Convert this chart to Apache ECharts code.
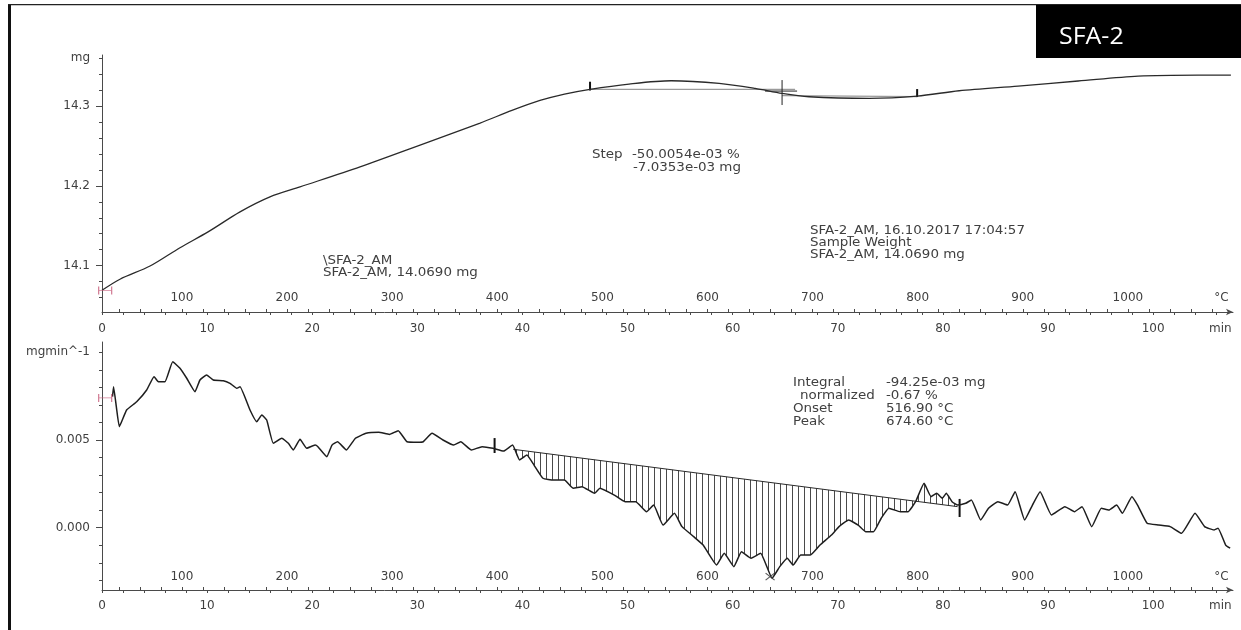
<!DOCTYPE html>
<html><head><meta charset="utf-8">
<script src="https://cdn.jsdelivr.net/npm/echarts@6/dist/echarts.min.js"></script>
<style>html,body{margin:0;padding:0;background:#fff}#c{width:1241px;height:630px}</style>
</head><body><div id="c"></div>
<script>
// ---------- data ----------
// TG curve: time (min) vs mass (mg)
const tgTime = [0,1.71,4.57,7.42,10.09,13.13,15.98,18.84,24.55,30.26,35.97,39.0,41.67,44.0,46.43,50.14,54.14,58.71,62.13,64.70,67.27,72.98,77.55,81.54,87.15,92.86,98.57,104.28,107.4];
const tgMass = [14.0691,14.0830,14.0995,14.1225,14.1423,14.1674,14.1862,14.1987,14.2238,14.2511,14.2787,14.2945,14.3070,14.3150,14.3210,14.3276,14.3317,14.3285,14.3222,14.3159,14.3117,14.3097,14.3125,14.3192,14.3251,14.3314,14.3376,14.3389,14.3389];
// DTG curve: time (min) vs rate (mg/min)
const dtgTime = [1.00,1.10,1.38,1.65,2.34,3.30,4.25,4.95,5.36,5.99,6.73,7.42,8.06,8.85,9.32,9.96,10.59,11.54,12.18,12.82,13.13,14.08,14.72,15.20,15.67,16.30,17.10,17.73,18.20,18.84,19.48,20.27,20.54,21.39,21.88,22.41,23.25,24.11,25.12,26.32,27.34,28.18,29.02,30.06,30.56,31.40,32.44,33.45,34.13,35.15,36.16,37.19,38.21,39.06,39.73,40.42,41.10,41.95,42.97,43.99,44.84,45.67,46.87,47.37,48.74,49.76,50.78,51.80,52.48,53.38,54.46,55.18,56.29,57.19,58.47,59.20,60.11,60.84,61.75,62.66,63.75,64.48,65.20,65.75,66.48,67.39,68.31,69.40,70.12,71.03,71.94,72.67,73.40,74.13,74.86,75.95,76.68,77.40,78.21,78.87,79.41,79.95,80.32,80.87,81.41,82.17,82.71,83.59,84.34,85.23,86.15,86.87,87.78,88.52,89.25,90.33,91.61,92.52,93.24,94.16,95.07,95.79,96.53,97.07,97.98,98.52,99.43,100.53,101.62,102.71,103.99,104.90,105.80,106.18,106.90,107.33];
const dtgRate = [0.00747,0.00804,0.00682,0.00576,0.00671,0.00718,0.00785,0.00861,0.00832,0.00832,0.00946,0.00909,0.00852,0.00775,0.00842,0.00871,0.00842,0.00838,0.00823,0.00795,0.00804,0.00671,0.00604,0.00643,0.00614,0.00481,0.00510,0.00481,0.00443,0.00504,0.00453,0.00471,0.00462,0.00405,0.00471,0.00490,0.00443,0.00510,0.00538,0.00544,0.00532,0.00553,0.00490,0.00487,0.00490,0.00538,0.00500,0.00471,0.00490,0.00443,0.00462,0.00453,0.00437,0.00471,0.00386,0.00414,0.00357,0.00282,0.00272,0.00272,0.00225,0.00234,0.00196,0.00225,0.00186,0.00148,0.00148,0.00091,0.00129,0.00015,0.00082,0.00006,-0.00051,-0.00099,-0.00213,-0.00146,-0.00222,-0.00137,-0.00174,-0.00146,-0.00288,-0.00222,-0.00174,-0.00213,-0.00156,-0.00156,-0.00099,-0.00042,0.00006,0.00044,0.00015,-0.00023,-0.00023,0.00054,0.00111,0.00091,0.00091,0.00148,0.00253,0.00177,0.00196,0.00168,0.00196,0.00148,0.00129,0.00139,0.00158,0.00044,0.00111,0.00148,0.00129,0.00205,0.00044,0.00129,0.00205,0.00072,0.00120,0.00091,0.00120,0.00006,0.00111,0.00101,0.00129,0.00082,0.00177,0.00129,0.00025,0.00015,0.00006,-0.00032,0.00082,0.00006,-0.00013,-0.00003,-0.00099,-0.00117];

// tick labels
const timeLabels = [0,10,20,30,40,50,60,70,80,90,100];
const tempLabels = [100,200,300,400,500,600,700,800,900,1000];
const massLabels = [14.1,14.2,14.3];
const rateLabels = [0.000,0.005];
const timeUnitPos = 106.4, tempUnitPos = 1089, massUnitPos = 14.36, rateUnitPos = 0.010;

// evaluation marks (data coordinates)
const stepTangentA = [[46.43,14.3210],[65.94,14.3210]];
const stepTangentB = [[64.70,14.3130],[77.55,14.3118]];
const stepCrossV = [[64.70,14.3326],[64.70,14.3013]];
const stepCrossH = [[63.08,14.3188],[66.13,14.3188]];
const stepLimitL = [[46.43,14.3305],[46.43,14.3195]];
const stepLimitR = [[77.55,14.3213],[77.55,14.3113]];
const integBaseline = [[39.12,0.00447],[81.40,0.00120]];
const integLimitL = [[37.35,0.00511],[37.35,0.00426]];
const integLimitR = [[81.59,0.00164],[81.59,0.00061]];
const peakMark = [[63.56,-0.00279]];
const startMarkTG = [[0.3,14.069]];
const startMarkDTG = [[0.3,0.0074]];

// axis ranges
const T_MAX = 107.6, TEMP_MIN = 24, TEMP_MAX = 1100;
const M_MIN = 14.0419, M_MAX = 14.364;
const R_MIN = -0.003552, R_MAX = 0.010587;

// ---------- helpers ----------
const FONT = 'DejaVu Sans';
const LBL = '#3f3f3f';
const AX = '#4a4a4a';
const zip = (a, b) => a.map((v, i) => [v, b[i]]);
const range = (a, b, s) => { const r = []; for (let v = a; v <= b + 1e-9; v += s) r.push(+v.toFixed(6)); return r; };

function xAxesFor(g, tmMargin, tpMargin) {
  return [
    { type: 'value', gridIndex: g, min: 0, max: T_MAX, position: 'bottom',
      axisLine: { show: true, onZero: false, lineStyle: { color: AX, width: 1 }, symbol: ['none', 'arrow'], symbolSize: [5, 7] },
      axisTick: { show: true, customValues: range(0, 106, 2), length: 3, lineStyle: { color: AX } },
      axisLabel: { customValues: timeLabels.concat([timeUnitPos]), margin: tmMargin, color: LBL, fontFamily: FONT, fontSize: 12,
        formatter: v => v > 105 ? 'min' : String(Math.round(v)) },
      splitLine: { show: false } },
    { type: 'value', gridIndex: g, min: TEMP_MIN, max: TEMP_MAX, position: 'bottom',
      axisLine: { show: false, onZero: false },
      axisTick: { show: true, inside: true, customValues: range(40, 1080, 20), length: 3, lineStyle: { color: AX } },
      axisLabel: { inside: true, customValues: tempLabels.concat([tempUnitPos]), margin: tpMargin, color: LBL, fontFamily: FONT, fontSize: 12,
        formatter: v => v > 1050 ? '°C' : String(Math.round(v)) },
      splitLine: { show: false } }
  ];
}
function yAxesFor(g, mn, mx, labels, unitPos, unitName, digits, minor) {
  return [
    { type: 'value', gridIndex: g, min: mn, max: mx, position: 'left',
      axisLine: { show: true, onZero: false, lineStyle: { color: AX } },
      axisTick: { show: true, customValues: labels, length: 6, lineStyle: { color: AX } },
      axisLabel: { customValues: labels.concat([unitPos]), margin: 12, color: LBL, fontFamily: FONT, fontSize: 12,
        formatter: v => Math.abs(v - unitPos) < 1e-9 ? unitName : v.toFixed(digits) },
      splitLine: { show: false } },
    { type: 'value', gridIndex: g, min: mn, max: mx, position: 'left',
      axisLine: { show: false, onZero: false },
      axisTick: { show: true, customValues: minor, length: 3, lineStyle: { color: AX } },
      axisLabel: { show: false }, splitLine: { show: false } }
  ];
}
const seg = (data, xi, yi, color, width) => ({
  type: 'line', xAxisIndex: xi, yAxisIndex: yi, data, showSymbol: false, silent: true,
  lineStyle: { color, width }, z: 3, animation: false
});

// hatch pattern
const pat = document.createElement('canvas');
pat.width = 6; pat.height = 2;
const pctx = pat.getContext('2d');
pctx.fillStyle = '#4a4a4a'; pctx.fillRect(0, 0, 1, 2);

const chart = echarts.init(document.getElementById('c'), null, { renderer: 'canvas' });

const txt = (x, y, s, extra, sx) => ({ type: 'text', x, y, scaleX: sx == null ? 1.12 : sx, silent: true, z: 10,
  style: Object.assign({ text: s, fill: '#404040', font: '12px "DejaVu Sans"', align: 'left', verticalAlign: 'middle' }, extra || {}) });

chart.setOption({
  animation: false,
  backgroundColor: '#fff',
  grid: [
    { left: 102, top: 55, width: 1131, height: 257 },
    { left: 102, top: 342, width: 1131, height: 248 }
  ],
  xAxis: [...xAxesFor(0, 11, 8), ...xAxesFor(1, 10, 7)],
  yAxis: [
    ...yAxesFor(0, M_MIN, M_MAX, massLabels, massUnitPos, 'mg', 1, range(14.06, 14.36, 0.02)),
    ...yAxesFor(1, R_MIN, R_MAX, rateLabels, rateUnitPos, 'mgmin^-1', 3, range(-0.003, 0.010, 0.001))
  ],
  series: [
    { type: 'line', xAxisIndex: 0, yAxisIndex: 0, data: zip(tgTime, tgMass), showSymbol: false, smooth: 0.3,
      lineStyle: { color: '#2a2a2a', width: 1.3 }, z: 4 },
    seg(stepTangentA, 0, 0, '#9a9a9a', 1.2),
    seg(stepTangentB, 0, 0, '#9a9a9a', 1.2),
    seg(stepCrossV, 0, 0, '#222', 1),
    seg(stepCrossH, 0, 0, '#222', 1),
    seg(stepLimitL, 0, 0, '#111', 2),
    seg(stepLimitR, 0, 0, '#111', 2),
    { type: 'scatter', xAxisIndex: 0, yAxisIndex: 0, data: startMarkTG, symbol: 'path://M0,0L0,8M0,4L12,4M12,0L12,8',
      symbolSize: [13, 8], itemStyle: { color: 'rgba(0,0,0,0)', borderColor: '#c8607e', borderWidth: 1 }, silent: true, z: 5 },

    { type: 'custom', xAxisIndex: 2, yAxisIndex: 2, data: [0], silent: true, z: 2,
      renderItem: (params, api) => {
        const t0 = integBaseline[0][0], t1 = integBaseline[1][0];
        const pts = [api.coord(integBaseline[0])];
        for (let i = 0; i < dtgTime.length; i++) {
          if (dtgTime[i] > t0 && dtgTime[i] < t1) pts.push(api.coord([dtgTime[i], dtgRate[i]]));
        }
        pts.push(api.coord(integBaseline[1]));
        return { type: 'polygon', shape: { points: pts }, style: { fill: { image: pat, repeat: 'repeat' }, stroke: null } };
      } },
    { type: 'line', xAxisIndex: 2, yAxisIndex: 2, data: zip(dtgTime, dtgRate), showSymbol: false, smooth: 0.12,
      lineStyle: { color: '#1e1e1e', width: 1.5 }, z: 4 },
    seg(integBaseline, 2, 2, '#2a2a2a', 1),
    seg(integLimitL, 2, 2, '#111', 2),
    seg(integLimitR, 2, 2, '#111', 2),
    { type: 'scatter', xAxisIndex: 2, yAxisIndex: 2, data: peakMark, symbol: 'path://M0,0L10,8M10,0L0,8',
      symbolSize: [9, 7], itemStyle: { color: 'rgba(0,0,0,0)', borderColor: '#333', borderWidth: 1 }, silent: true, z: 5 },
    { type: 'scatter', xAxisIndex: 2, yAxisIndex: 2, data: startMarkDTG, symbol: 'path://M0,0L0,8M0,4L12,4M12,0L12,8',
      symbolSize: [13, 8], itemStyle: { color: 'rgba(0,0,0,0)', borderColor: '#c8607e', borderWidth: 1 }, silent: true, z: 5 }
  ],
  graphic: [
    { type: 'rect', shape: { x: 8, y: 5, width: 3, height: 625 }, style: { fill: '#111' }, silent: true },
    { type: 'rect', shape: { x: 8, y: 4, width: 1233, height: 1.3 }, style: { fill: '#222' }, silent: true },
    { type: 'rect', shape: { x: 1036, y: 5, width: 205, height: 53 }, style: { fill: '#000' }, silent: true },
    txt(1059, 37, 'SFA-2', { fill: '#fff', font: '24px "Open Sans"' }, 1.04),

    txt(592, 155, 'Step'),
    txt(632, 155, '-50.0054e-03 %'),
    txt(633, 168, '-7.0353e-03 mg'),

    txt(810, 231, 'SFA-2_AM, 16.10.2017 17:04:57'),
    txt(810, 243, 'Sample Weight'),
    txt(810, 255, 'SFA-2_AM, 14.0690 mg'),

    txt(323, 261, '\\SFA-2_AM'),
    txt(323, 273, 'SFA-2_AM, 14.0690 mg'),

    txt(793, 383, 'Integral'),
    txt(800, 396, 'normalized'),
    txt(793, 409, 'Onset'),
    txt(793, 422, 'Peak'),
    txt(886, 383, '-94.25e-03 mg'),
    txt(886, 396, '-0.67 %'),
    txt(886, 409, '516.90 °C'),
    txt(886, 422, '674.60 °C')
  ]
});
</script>
</body></html>
